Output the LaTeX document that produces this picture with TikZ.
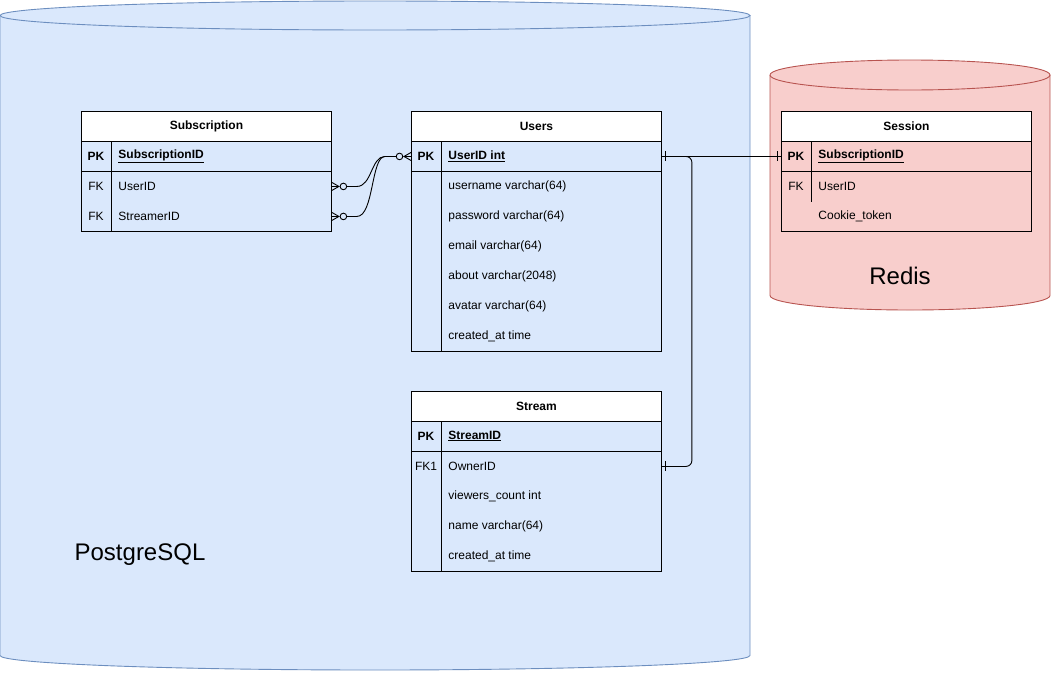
\documentclass[tikz,border=0pt]{standalone}
\usepackage{fontspec}
\setmainfont{Liberation Sans}
\usetikzlibrary{calc}
\definecolor{pgfill}{HTML}{DAE8FC}
\definecolor{pgline}{HTML}{6C8EBF}
\definecolor{rdfill}{HTML}{F8CECC}
\definecolor{rdline}{HTML}{B85450}
\tikzset{
  x=1pt, y=-1pt,
  every node/.style={font=\fontsize{12}{14}\selectfont},
  tbl/.style={draw, anchor=north west, minimum width=250pt, inner sep=0pt},
  hdr/.style={draw, fill=white, anchor=north west, minimum width=250pt, minimum height=30pt, inner sep=0pt, font=\fontsize{12}{14}\selectfont\bfseries},
  rowbox/.style={anchor=north west, minimum width=250pt, minimum height=30pt, inner sep=0pt},
  keytxt/.style={inner sep=0pt},
  fldtxt/.style={anchor=west, inner sep=0pt},
  biglabel/.style={font=\fontsize{24}{28}\selectfont},
  zmany/.pic={\draw (0,-4)--(7,0)--(0,4) (0,0)--(7,0); \draw[fill=pgfill] (11.5,0) circle[radius=3.3];},
  onebar/.pic={\draw (4,-5)--(4,5);},
}
\begin{document}
\begin{tikzpicture}[line width=0.9pt]
\useasboundingbox (0,0) rectangle (1051,672);
% PostgreSQL cylinder
\fill[pgfill] (0,15.5) -- (0,655.5) arc[start angle=180,end angle=0,x radius=375,y radius=14.5] -- (750,15.5) arc[start angle=0,end angle=-180,x radius=375,y radius=14.5] -- cycle;
\draw[pgline] (0,15.5) -- (0,655.5) arc[start angle=180,end angle=0,x radius=375,y radius=14.5] -- (750,15.5);
\draw[pgline] (375,15.5) ellipse[x radius=375,y radius=14.5];
% Redis cylinder
\fill[rdfill] (770,75) -- (770,295.5) arc[start angle=180,end angle=0,x radius=140,y radius=14.5] -- (1050,75) arc[start angle=0,end angle=-180,x radius=140,y radius=15] -- cycle;
\draw[rdline] (770,75) -- (770,295.5) arc[start angle=180,end angle=0,x radius=140,y radius=14.5] -- (1050,75);
\draw[rdline] (910,75) ellipse[x radius=140,y radius=15];
\node[biglabel] (pglabel) at (140,555) {PostgreSQL};
\node[biglabel] (rdlabel) at (900,276) {Redis};

% Subscription table
\node[tbl, minimum height=120pt] (subT) at (81,111) {};
\node[hdr] (subH) at (81,111) {Subscription};
\node[rowbox] (subPK) at (81,141) {};
\node[rowbox] (subUser) at (81,171) {};
\node[rowbox] (subStr) at (81,201) {};
\draw (subPK.south west) -- (subPK.south east);
\draw ($(subPK.north west)+(30,0)$) -- ($(subT.south west)+(30,0)$);
\node[keytxt, font=\fontsize{12}{14}\selectfont\bfseries] (subk1) at (96,156) {PK};
\node[fldtxt, font=\fontsize{12}{14}\selectfont\bfseries] (subf1) at (118,156) {\underline{SubscriptionID}};
\node[keytxt] (subk2) at (96,186) {FK};
\node[fldtxt] (subf2) at (118,186) {UserID};
\node[keytxt] (subk3) at (96,216) {FK};
\node[fldtxt] (subf3) at (118,216) {StreamerID};

% Users table
\node[tbl, minimum height=240pt] (usrT) at (411,111) {};
\node[hdr] (usrH) at (411,111) {Users};
\node[rowbox] (usrPK) at (411,141) {};
\draw (usrPK.south west) -- (usrPK.south east);
\draw ($(usrPK.north west)+(30,0)$) -- ($(usrT.south west)+(30,0)$);
\node[keytxt, font=\fontsize{12}{14}\selectfont\bfseries] (usrk1) at (426,156) {PK};
\node[fldtxt, font=\fontsize{12}{14}\selectfont\bfseries] (usrf1) at (448,156) {\underline{UserID int}};
\node[fldtxt] (usrf2) at (448,186) {username varchar(64)};
\node[fldtxt] (usrf3) at (448,216) {password varchar(64)};
\node[fldtxt] (usrf4) at (448,246) {email varchar(64)};
\node[fldtxt] (usrf5) at (448,276) {about varchar(2048)};
\node[fldtxt] (usrf6) at (448,306) {avatar varchar(64)};
\node[fldtxt] (usrf7) at (448,336) {created\_at time};

% Stream table
\node[tbl, minimum height=180pt] (strT) at (411,391) {};
\node[hdr] (strH) at (411,391) {Stream};
\node[rowbox] (strPK) at (411,421) {};
\node[rowbox] (strOwner) at (411,451) {};
\draw (strPK.south west) -- (strPK.south east);
\draw ($(strPK.north west)+(30,0)$) -- ($(strT.south west)+(30,0)$);
\node[keytxt, font=\fontsize{12}{14}\selectfont\bfseries] (strk1) at (426,436) {PK};
\node[fldtxt, font=\fontsize{12}{14}\selectfont\bfseries] (strf1) at (448,436) {\underline{StreamID}};
\node[keytxt] (strk2) at (426,466) {FK1};
\node[fldtxt] (strf2) at (448,466) {OwnerID};
\node[fldtxt] (strf3) at (448,496) {viewers\_count int};
\node[fldtxt] (strf4) at (448,526) {name varchar(64)};
\node[fldtxt] (strf5) at (448,556) {created\_at time};

% Session table
\node[tbl, minimum height=120pt] (sesT) at (781,111) {};
\node[hdr] (sesH) at (781,111) {Session};
\node[rowbox] (sesPK) at (781,141) {};
\node[rowbox] (sesUser) at (781,171) {};
\draw (sesPK.south west) -- (sesPK.south east);
\draw ($(sesPK.north west)+(30,0)$) -- ($(sesUser.south west)+(30,0)$);
\node[keytxt, font=\fontsize{12}{14}\selectfont\bfseries] (sesk1) at (796,156) {PK};
\node[fldtxt, font=\fontsize{12}{14}\selectfont\bfseries] (sesf1) at (818,156) {\underline{SubscriptionID}};
\node[keytxt] (sesk2) at (796,186) {FK};
\node[fldtxt] (sesf2) at (818,186) {UserID};
\node[fldtxt] (sesf3) at (818,216) {Cookie\_token};

% Connectors
\draw ($(subUser.east)+(15,0)$) -- ++(10,0) .. controls +(15,0) and +(-14,0) .. ($(usrPK.west)+(-26,0)$) -- ($(usrPK.west)+(-15,0)$);
\draw ($(subStr.east)+(15,0)$) -- ++(10,0) .. controls +(17,0) and +(-14,0) .. ($(usrPK.west)+(-26,0)$);
\pic at (subUser.east) {zmany};
\pic at (subStr.east) {zmany};
\pic[xscale=-1] at (usrPK.west) {zmany};

\draw (usrPK.east) -- (sesPK.west);
\draw[rounded corners=6pt] (usrPK.east) -- ++(30,0) |- (strOwner.east);
\pic at (usrPK.east) {onebar};
\pic[xscale=-1] at (sesPK.west) {onebar};
\pic at (strOwner.east) {onebar};
\end{tikzpicture}
\end{document}
